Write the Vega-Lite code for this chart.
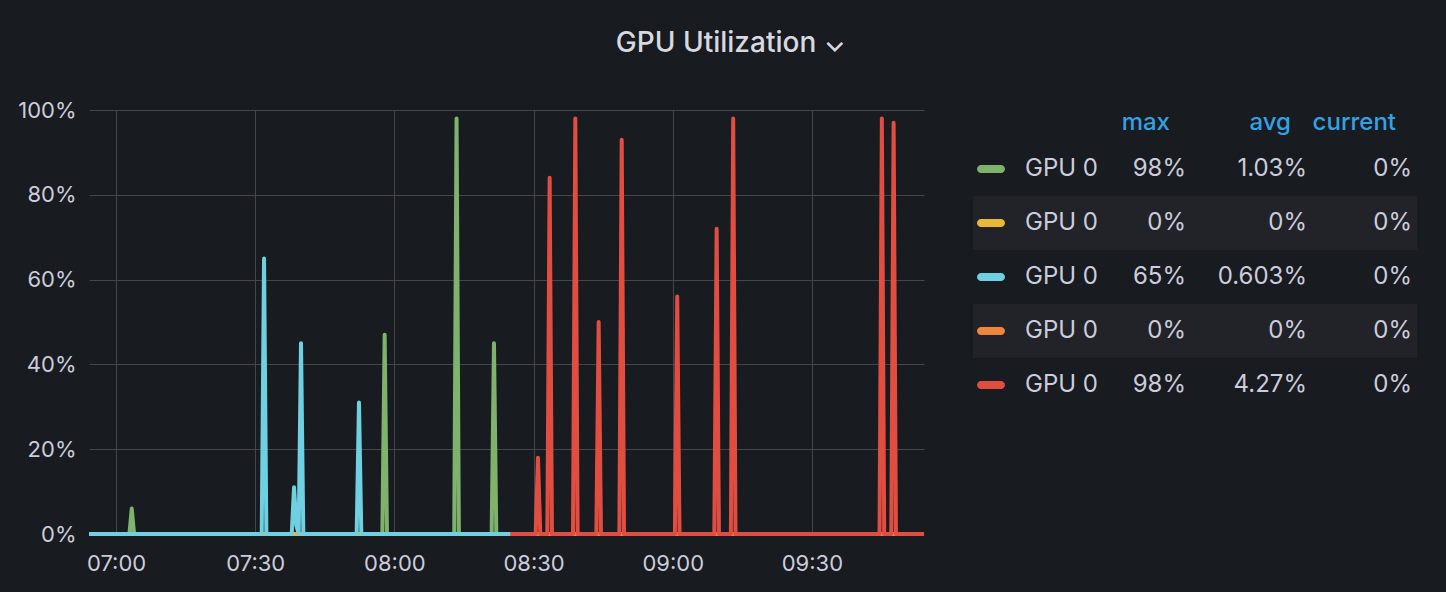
{
  "$schema": "https://vega.github.io/schema/vega-lite/v6.json",
  "background": "#181b1f",
  "padding": {"left": 17, "top": 30, "right": 10, "bottom": 20},
  "title": {"text": "GPU Utilization ⌄", "anchor": "middle", "fontSize": 28, "fontWeight": 500, "color": "#d8d9e0", "font": "Inter", "offset": 41},
  "config": {"font": "Inter", "view": {"stroke": null}},
  "spacing": 15,
  "hconcat": [
    {
      "width": 835,
      "height": 424,
      "data": {"values": [
        {"s": "A", "t": "2024-01-01T06:54:10", "v": 0},
        {"s": "A", "t": "2024-01-01T07:02:53", "v": 0},
        {"s": "A", "t": "2024-01-01T07:03:23", "v": 6},
        {"s": "A", "t": "2024-01-01T07:03:53", "v": 0},
        {"s": "A", "t": "2024-01-01T07:57:24", "v": 0},
        {"s": "A", "t": "2024-01-01T07:57:54", "v": 47},
        {"s": "A", "t": "2024-01-01T07:58:24", "v": 0},
        {"s": "A", "t": "2024-01-01T08:12:54", "v": 0},
        {"s": "A", "t": "2024-01-01T08:13:24", "v": 98},
        {"s": "A", "t": "2024-01-01T08:13:54", "v": 0},
        {"s": "A", "t": "2024-01-01T08:20:58", "v": 0},
        {"s": "A", "t": "2024-01-01T08:21:28", "v": 45},
        {"s": "A", "t": "2024-01-01T08:21:58", "v": 0},
        {"s": "A", "t": "2024-01-01T08:25:00", "v": 0},
        {"s": "B", "t": "2024-01-01T06:54:10", "v": 0},
        {"s": "B", "t": "2024-01-01T08:25:00", "v": 0},
        {"s": "C", "t": "2024-01-01T06:54:10", "v": 0},
        {"s": "C", "t": "2024-01-01T07:31:24", "v": 0},
        {"s": "C", "t": "2024-01-01T07:31:54", "v": 65},
        {"s": "C", "t": "2024-01-01T07:32:24", "v": 0},
        {"s": "C", "t": "2024-01-01T07:37:52", "v": 0},
        {"s": "C", "t": "2024-01-01T07:38:22", "v": 11},
        {"s": "C", "t": "2024-01-01T07:38:52", "v": 2},
        {"s": "C", "t": "2024-01-01T07:39:22", "v": 0},
        {"s": "C", "t": "2024-01-01T07:39:52", "v": 45},
        {"s": "C", "t": "2024-01-01T07:40:22", "v": 0},
        {"s": "C", "t": "2024-01-01T07:51:52", "v": 0},
        {"s": "C", "t": "2024-01-01T07:52:22", "v": 31},
        {"s": "C", "t": "2024-01-01T07:52:52", "v": 0},
        {"s": "C", "t": "2024-01-01T08:25:00", "v": 0},
        {"s": "D", "t": "2024-01-01T08:25:00", "v": 0},
        {"s": "D", "t": "2024-01-01T09:54:10", "v": 0},
        {"s": "E", "t": "2024-01-01T08:25:00", "v": 0},
        {"s": "E", "t": "2024-01-01T08:30:27", "v": 0},
        {"s": "E", "t": "2024-01-01T08:30:57", "v": 18},
        {"s": "E", "t": "2024-01-01T08:31:27", "v": 0},
        {"s": "E", "t": "2024-01-01T08:32:58", "v": 0},
        {"s": "E", "t": "2024-01-01T08:33:28", "v": 84},
        {"s": "E", "t": "2024-01-01T08:33:58", "v": 0},
        {"s": "E", "t": "2024-01-01T08:38:30", "v": 0},
        {"s": "E", "t": "2024-01-01T08:39:00", "v": 98},
        {"s": "E", "t": "2024-01-01T08:39:30", "v": 0},
        {"s": "E", "t": "2024-01-01T08:43:32", "v": 0},
        {"s": "E", "t": "2024-01-01T08:44:02", "v": 50},
        {"s": "E", "t": "2024-01-01T08:44:32", "v": 0},
        {"s": "E", "t": "2024-01-01T08:48:30", "v": 0},
        {"s": "E", "t": "2024-01-01T08:49:00", "v": 93},
        {"s": "E", "t": "2024-01-01T08:49:30", "v": 0},
        {"s": "E", "t": "2024-01-01T09:00:28", "v": 0},
        {"s": "E", "t": "2024-01-01T09:00:58", "v": 56},
        {"s": "E", "t": "2024-01-01T09:01:28", "v": 0},
        {"s": "E", "t": "2024-01-01T09:08:58", "v": 0},
        {"s": "E", "t": "2024-01-01T09:09:28", "v": 72},
        {"s": "E", "t": "2024-01-01T09:09:58", "v": 0},
        {"s": "E", "t": "2024-01-01T09:12:32", "v": 0},
        {"s": "E", "t": "2024-01-01T09:13:02", "v": 98},
        {"s": "E", "t": "2024-01-01T09:13:32", "v": 0},
        {"s": "E", "t": "2024-01-01T09:44:35", "v": 0},
        {"s": "E", "t": "2024-01-01T09:45:05", "v": 98},
        {"s": "E", "t": "2024-01-01T09:45:35", "v": 0},
        {"s": "E", "t": "2024-01-01T09:47:07", "v": 0},
        {"s": "E", "t": "2024-01-01T09:47:37", "v": 97},
        {"s": "E", "t": "2024-01-01T09:48:07", "v": 0},
        {"s": "E", "t": "2024-01-01T09:54:10", "v": 0}
      ]},
      "encoding": {
        "x": {
          "field": "t", "type": "temporal",
          "scale": {"domain": [
            {"year": 2024, "month": 1, "date": 1, "hours": 6, "minutes": 54, "seconds": 10},
            {"year": 2024, "month": 1, "date": 1, "hours": 9, "minutes": 54, "seconds": 10}
          ], "nice": false},
          "axis": {
            "values": [
              {"year": 2024, "month": 1, "date": 1, "hours": 7, "minutes": 0},
              {"year": 2024, "month": 1, "date": 1, "hours": 7, "minutes": 30},
              {"year": 2024, "month": 1, "date": 1, "hours": 8, "minutes": 0},
              {"year": 2024, "month": 1, "date": 1, "hours": 8, "minutes": 30},
              {"year": 2024, "month": 1, "date": 1, "hours": 9, "minutes": 0},
              {"year": 2024, "month": 1, "date": 1, "hours": 9, "minutes": 30}
            ],
            "format": "%H:%M", "grid": true, "gridColor": "#44464b", "ticks": false, "domain": false, "labelColor": "#ccccdc", "labelFontSize": 22, "labelPadding": 19, "title": null}
        },
        "y": {
          "field": "v", "type": "quantitative",
          "scale": {"domain": [0, 100], "nice": false},
          "axis": {"values": [0, 20, 40, 60, 80, 100], "labelExpr": "datum.value + '%'", "grid": true, "gridColor": "#44464b", "ticks": false, "domain": false, "labelColor": "#ccccdc", "labelFontSize": 22, "labelPadding": 13, "title": null}
        }
      },
      "layer": [
        {"transform": [{"filter": "datum.s == 'A'"}], "mark": {"type": "line", "color": "#7EB26D", "strokeWidth": 4, "strokeJoin": "round"}},
        {"transform": [{"filter": "datum.s == 'B'"}], "mark": {"type": "line", "color": "#EAB839", "strokeWidth": 4, "strokeJoin": "round"}},
        {"transform": [{"filter": "datum.s == 'C'"}], "mark": {"type": "line", "color": "#6ED0E0", "strokeWidth": 4, "strokeJoin": "round"}},
        {"transform": [{"filter": "datum.s == 'D'"}], "mark": {"type": "line", "color": "#EF843C", "strokeWidth": 4, "strokeJoin": "round"}},
        {"transform": [{"filter": "datum.s == 'E'"}], "mark": {"type": "line", "color": "#E24D42", "strokeWidth": 4, "strokeJoin": "round"}}
      ]
    },
    {
      "width": 480,
      "height": 424,
      "data": {"values": [
        {"s": "A", "row": 1, "name": "GPU 0", "max": "98%", "avg": "1.03%", "cur": "0%"},
        {"s": "B", "row": 2, "name": "GPU 0", "max": "0%", "avg": "0%", "cur": "0%"},
        {"s": "C", "row": 3, "name": "GPU 0", "max": "65%", "avg": "0.603%", "cur": "0%"},
        {"s": "D", "row": 4, "name": "GPU 0", "max": "0%", "avg": "0%", "cur": "0%"},
        {"s": "E", "row": 5, "name": "GPU 0", "max": "98%", "avg": "4.27%", "cur": "0%"}
      ]},
      "layer": [
        {
          "transform": [{"filter": "datum.row == 2 || datum.row == 4"}],
          "mark": {"type": "rule", "color": "#212328", "strokeWidth": 54, "strokeCap": "butt"},
          "encoding": {
            "x": {"datum": -1, "type": "quantitative", "scale": {"domain": [-1, 0, 1, 2, 3, 4, 5], "range": [32, 50, 84, 245, 366, 471, 476], "nice": false, "zero": false}, "axis": null},
            "x2": {"datum": 5},
            "y": {"field": "row", "type": "quantitative", "scale": {"domain": [0, 1, 5], "range": [13, 59, 275], "nice": false, "zero": false}, "axis": null}
          }
        },
        {
          "mark": {"type": "point", "filled": true, "opacity": 1, "size": 784, "strokeWidth": 0, "shape": "M -0.71 -0.29 L 0.71 -0.29 A 0.29 0.29 0 0 1 0.71 0.29 L -0.71 0.29 A 0.29 0.29 0 0 1 -0.71 -0.29 Z"},
          "encoding": {
            "x": {"datum": 0, "type": "quantitative"},
            "y": {"field": "row", "type": "quantitative"},
            "color": {"field": "s", "type": "nominal", "scale": {"domain": ["A", "B", "C", "D", "E"], "range": ["#7EB26D", "#EAB839", "#6ED0E0", "#EF843C", "#E24D42"]}, "legend": null}
          }
        },
        {
          "mark": {"type": "text", "align": "left", "baseline": "middle", "fontSize": 24, "color": "#ccccdc"},
          "encoding": {"x": {"datum": 1, "type": "quantitative"}, "y": {"field": "row", "type": "quantitative"}, "text": {"field": "name"}}
        },
        {
          "mark": {"type": "text", "align": "right", "baseline": "middle", "fontSize": 24, "color": "#ccccdc"},
          "encoding": {"x": {"datum": 2, "type": "quantitative"}, "y": {"field": "row", "type": "quantitative"}, "text": {"field": "max"}}
        },
        {
          "mark": {"type": "text", "align": "right", "baseline": "middle", "fontSize": 24, "color": "#ccccdc"},
          "encoding": {"x": {"datum": 3, "type": "quantitative"}, "y": {"field": "row", "type": "quantitative"}, "text": {"field": "avg"}}
        },
        {
          "mark": {"type": "text", "align": "right", "baseline": "middle", "fontSize": 24, "color": "#ccccdc"},
          "encoding": {"x": {"datum": 4, "type": "quantitative"}, "y": {"field": "row", "type": "quantitative"}, "text": {"field": "cur"}}
        },
        {
          "data": {"values": [
            {"col": 2, "row": 0, "label": "max"},
            {"col": 3, "row": 0, "label": "avg"},
            {"col": 4, "row": 0, "label": "current"}
          ]},
          "mark": {"type": "text", "align": "right", "baseline": "middle", "fontSize": 24, "fontWeight": 500, "color": "#33a2e5", "dx": -16},
          "encoding": {"x": {"field": "col", "type": "quantitative"}, "y": {"field": "row", "type": "quantitative"}, "text": {"field": "label"}}
        }
      ]
    }
  ]
}
